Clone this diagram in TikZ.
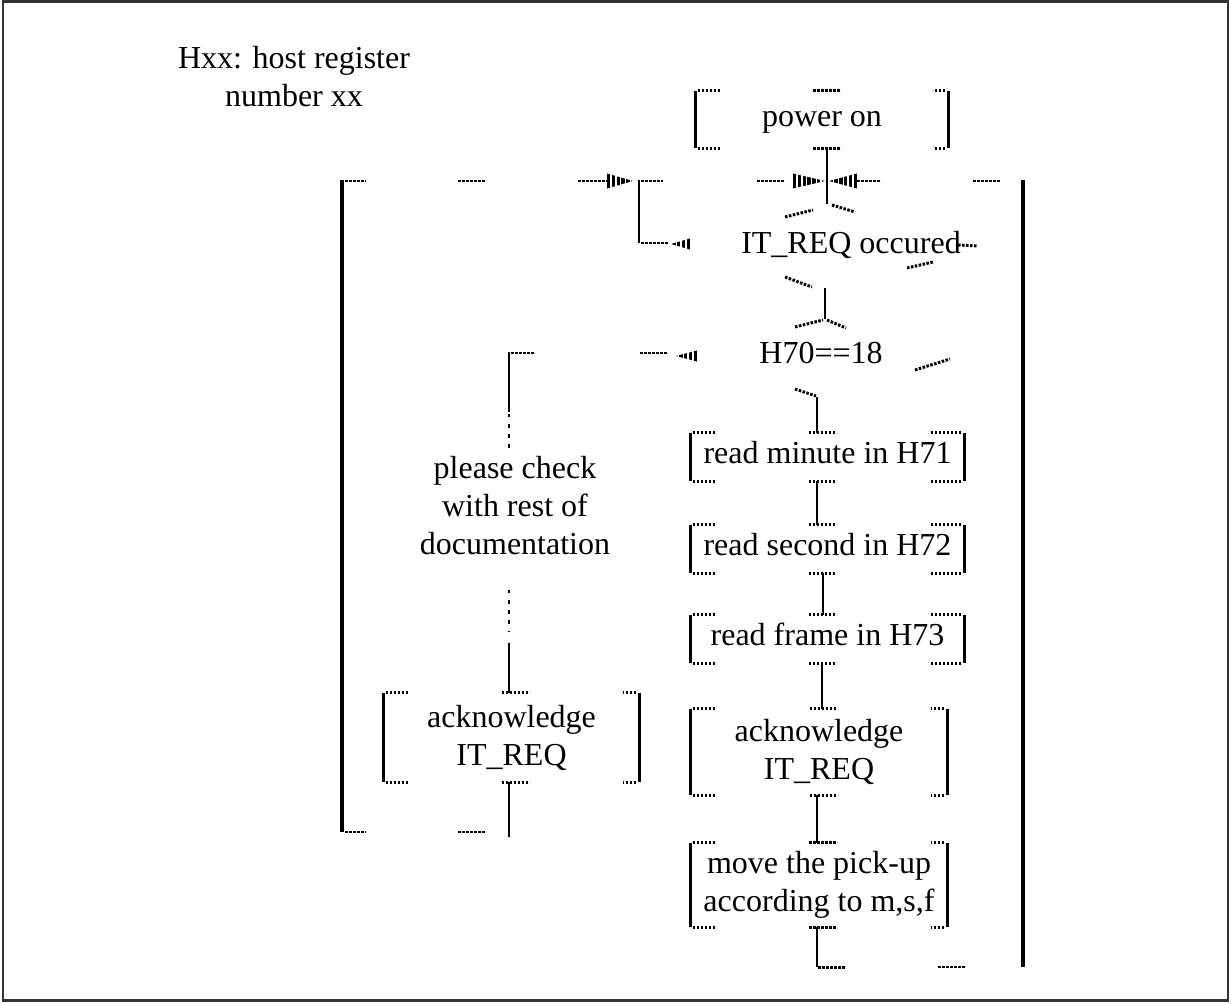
\documentclass[tikz,border=0pt]{standalone}
\usepackage{fontspec}
\setmainfont{Liberation Serif}
\usetikzlibrary{calc}
\tikzset{
  txt/.style={font=\fontsize{24}{28.5}\selectfont, inner sep=0pt, align=center},
  one/.style={text height=16pt, text depth=6pt},
  bx/.style 2 args={txt, minimum width=#1*0.75pt, minimum height=#2*0.75pt},
  sideln/.style={line width=2pt, black},
  bigln/.style={line width=2.4pt, black},
  dotln/.style={line width=2.2pt, dash pattern=on 1.9pt off 1.1pt, black},
  sparsedots/.style={line width=1.4pt, dash pattern=on 2.6pt off 5pt, black},
  frameln/.style={line width=1.8pt, black!80},
}
\newcommand\fragbox[3]{%
  \draw[sideln] (#1.north west) -- (#1.south west);
  \draw[sideln] (#1.north east) -- (#1.south east);
  \draw[dotln] ($(#1.north west)+(2,0)$) -- ++(23,0);
  \draw[dotln] ($(#1.south west)+(2,0)$) -- ++(23,0);
  \draw[dotln] ($(#1.north)+(#2-14,0)$) -- ++(28,0);
  \draw[dotln] ($(#1.south)+(#2-14,0)$) -- ++(28,0);
  \draw[dotln] ($(#1.north east)+(-3,0)$) -- ++(-#3,0);
  \draw[dotln] ($(#1.south east)+(-3,0)$) -- ++(-#3,0);}
\newcommand\sarrow[4]{%
  \begin{scope}
    \clip (#1,#3) -- (#2,#3-#4) -- (#2,#3+#4) -- cycle;
    \draw[line width=#4*1.5pt+1pt, dash pattern=on 2.6pt off 1pt] (#2,#3) -- (#1,#3);
  \end{scope}}
\begin{document}
\begin{tikzpicture}[x=0.75pt,y=-0.75pt]
\useasboundingbox (0,0) rectangle (1231,1003);
\draw[frameln] (3,1.5) rectangle (1228,1000.5);

% legend
\node[txt] (legend) at (294,77) {Hxx: host register\\number xx};

% boxes
\node[bx={252}{57}, one] (pw) at (822,119.5) {power on};
\node[bx={273}{48}, one] (rm) at (827.5,457) {read minute in H71};
\node[bx={273}{48}, one] (rs) at (827.5,549) {read second in H72};
\node[bx={273}{48}, one] (rf) at (827.5,639) {read frame in H73};
\node[bx={256}{86}] (ackR) at (819,752) {acknowledge\\IT\_REQ};
\node[bx={256}{84}] (mv) at (819,885) {move the pick-up\\according to m,s,f};
\node[bx={255}{89}] (ackL) at (511.5,737.5) {acknowledge\\IT\_REQ};

\fragbox{pw}{5}{12}
\fragbox{rm}{-5}{30}
\fragbox{rs}{-5}{30}
\fragbox{rf}{-5}{30}
\fragbox{ackR}{4.5}{13}
\fragbox{mv}{4}{13}
\fragbox{ackL}{4}{13}

% decisions (text)
\node[txt, one] (itq) at (851,247) {IT\_REQ occured};
\node[txt, one] (h70) at (821,357) {H70==18};
\node[txt] (chk) at (515,506) {please check\\with rest of\\documentation};

\coordinate (itT) at (827,204);
\coordinate (itB) at (825,288);
\coordinate (hT) at (825,319);
\coordinate (hB) at (817,397);

% IT_REQ diamond fragments
\draw[dotln] (785,217) -- (813,210);
\draw[dotln] (832,205) -- (855,212);
\draw[dotln] (958,245) -- (977,246);
\draw[dotln] (907,268) -- (933,262);
\draw[dotln] (785,277) -- (812,287);
% H70 diamond fragments
\draw[dotln] (795,327) -- (823,320);
\draw[dotln] (827,320) -- (846,328);
\draw[dotln] (915,370) -- (950,359);
\draw[dotln] (795,389) -- (816,396);

% main column connectors
\draw[sideln] (pw.south -| itT) -- (itT);
\draw[sideln] (itB) -- (hT);
\draw[sideln] (hB) -- (hB |- rm.north);
\draw[sideln] ($(rm.south)+(-10.5,0)$) coordinate (c1) -- (c1 |- rs.north);
\draw[sideln] ($(rs.south)+(-4.5,0)$) coordinate (c2) -- (c2 |- rf.north);
\draw[sideln] ($(rf.south)+(-5.5,0)$) coordinate (c3) -- (c3 |- ackR.north);
\draw[sideln] ($(ackR.south)+(-2,0)$) coordinate (c4) -- (c4 |- mv.north);
\draw[sideln] ($(mv.south)+(-2,0)$) coordinate (c5) -- ++(0,40) coordinate (endL);
\draw[dotln] ($(endL)+(1,0)$) -- ++(28,0);
\draw[dotln] (938,967) -- (966,967);

% right loop
\coordinate (rbot) at (1023,967);
\coordinate (rtop) at (1023,180);
\draw[bigln] (rbot) -- (rtop);
\draw[dotln] (973,181) -- (1000,181);
\draw[dotln] (857,181) -- (881,181);
\sarrow{829}{857}{181}{7.5}
\sarrow{825}{793}{181}{7.5}
\draw[dotln] (757,181) -- (784,181);

% "no" branch of IT_REQ occured
\coordinate (nb) at (639,243);
\draw[sideln] (639,180) -- (nb);
\draw[dotln] (641,181) -- (663,181);
\draw[dotln] ($(nb)+(2,0)$) -- (668,243);
\sarrow{671}{690}{244}{5.5}
\draw[dotln] (578,181) -- (607,181);
\sarrow{633}{607}{181}{7.5}

% left outer loop
\coordinate (ltop) at (342,180);
\coordinate (lbot) at (342,832);
\draw[bigln] (ltop) -- (lbot);
\draw[dotln] (345,181) -- (366,181);
\draw[dotln] (458,181) -- (486,181);
\draw[dotln] (345,832) -- (366,832);
\draw[dotln] (458,832) -- (486,832);
\draw[sideln] ($(ackL.south)+(-2.5,0)$) coordinate (c6) -- ++(0,55);

% H70 branch to the left
\coordinate (lbr) at (509,352);
\draw[sideln] (lbr) -- (509,412);
\draw[sparsedots] (509,414) -- (509,448);
\draw[sparsedots] (509,590) -- (509,632);
\draw[sideln] (509,643) coordinate (lbr2) -- (lbr2 |- ackL.north);
\draw[dotln] (511,353) -- (535,353);
\draw[dotln] (640,353) -- (667,353);
\sarrow{676}{697}{356}{5.5}
\end{tikzpicture}
\end{document}
